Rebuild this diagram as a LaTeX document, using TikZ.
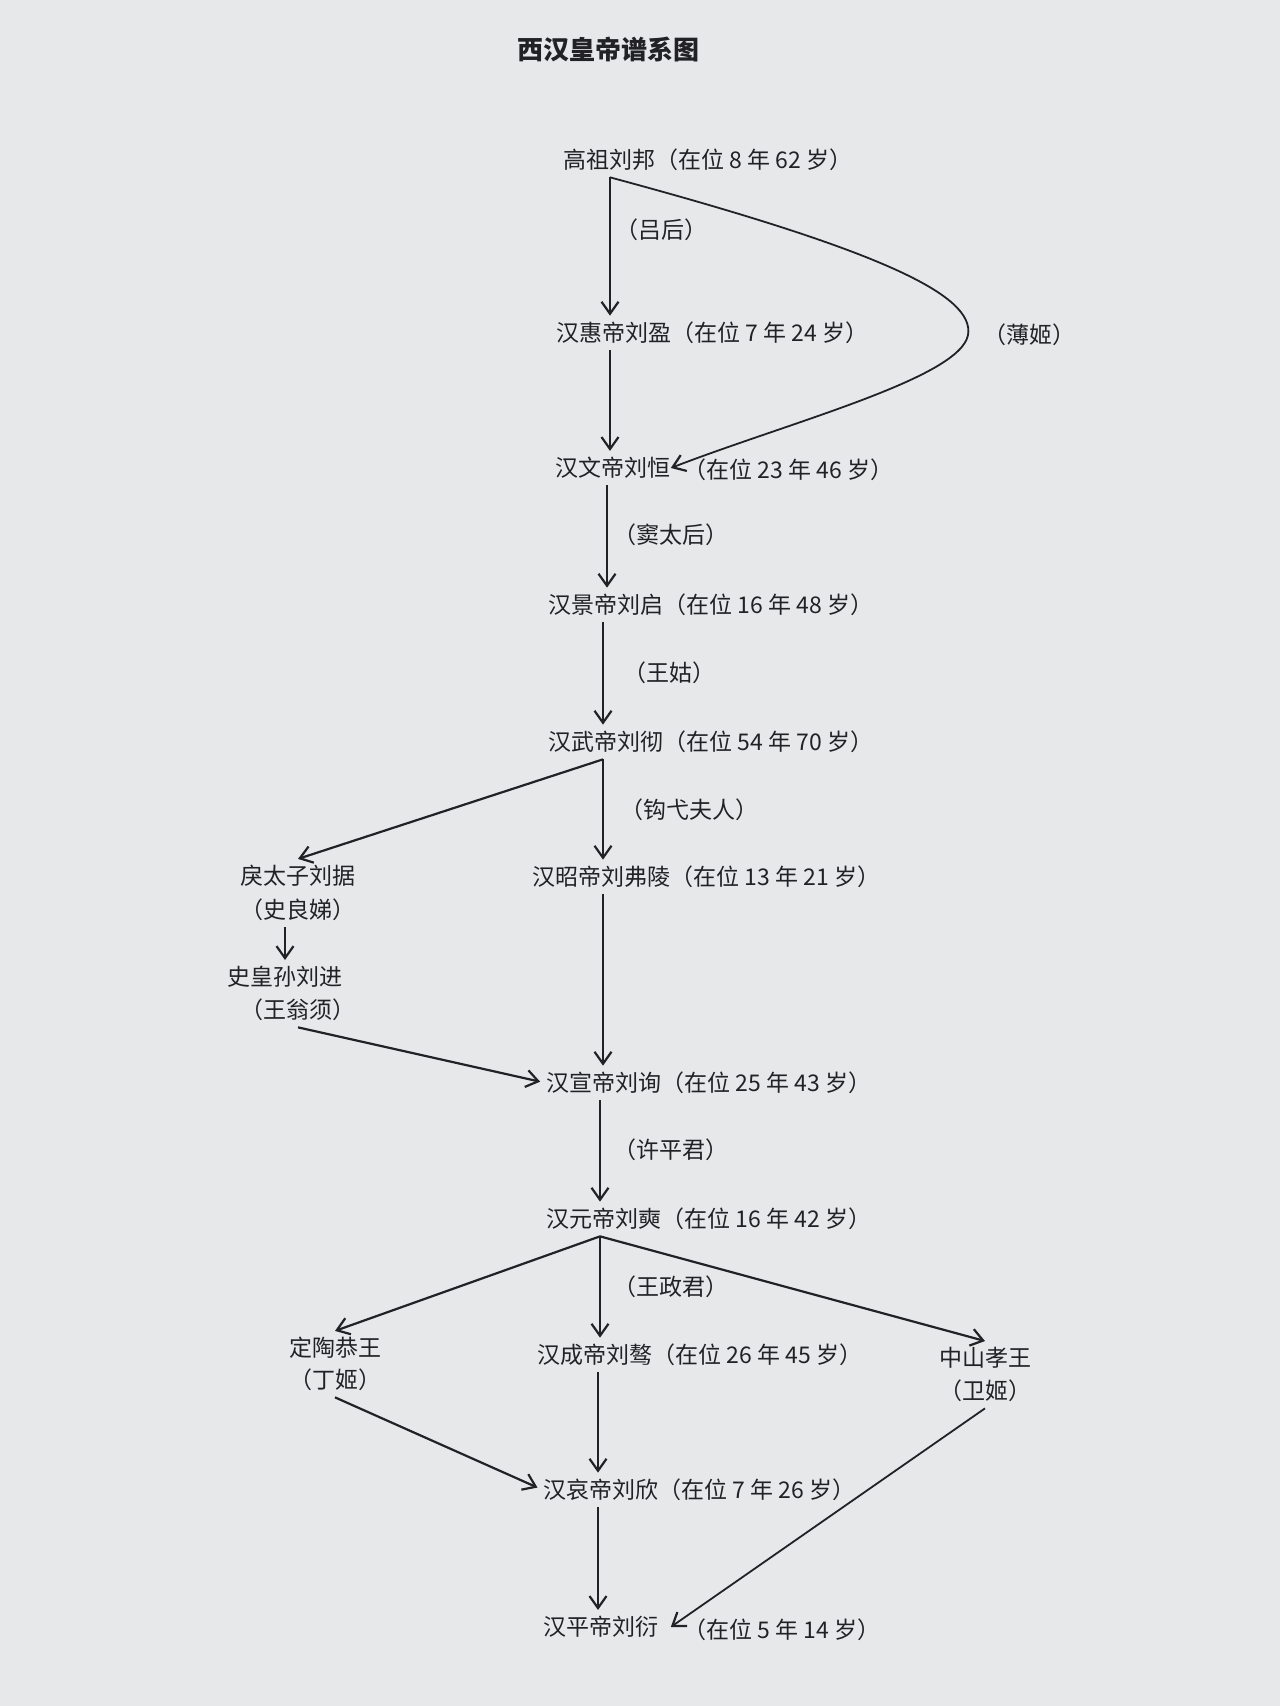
\documentclass[tikz,border=0pt]{standalone}
\usepackage{fontspec}
\setmainfont{Noto Sans CJK SC}
\usetikzlibrary{arrows.meta}
\definecolor{paper}{RGB}{231,232,234}
\definecolor{ink}{RGB}{34,34,38}
\begin{document}
\begin{tikzpicture}[x=0.5pt,y=-0.5pt,
  person/.style={inner xsep=0pt,inner ysep=3pt,text=ink,font=\fontsize{11.5}{13}\selectfont},
  lead/.style={person,anchor=west},
  wife/.style={person,anchor=west},
  arr/.style={draw=ink,line width=1.1pt,-{Straight Barb[length=6pt,width=8.5pt,line width=1.1pt]}},
  thin/.style={arr,line width=0.9pt}]
\useasboundingbox (0,0) rectangle (1280,1706);
\fill[paper] (0,0) rectangle (1280,1706);
% title
\node[text=ink,font=\fontsize{13}{15}\bfseries\selectfont] (title) at (608,50) {西汉皇帝谱系图};
% column coordinates
\coordinate (c1) at (610,0);
\coordinate (c2) at (607,0);
\coordinate (c3) at (603,0);
\coordinate (c4) at (600,0);
\coordinate (c5) at (598,0);
% emperors
\node[lead] (gaozu) at (563,160) {高祖刘邦（在位 8 年 62 岁）};
\node[lead] (huidi) at (556,333) {汉惠帝刘盈（在位 7 年 24 岁）};
\node[lead] (wendi) at (555,468) {汉文帝刘恒};
\node[lead] (wendiinfo) at (683,470) {（在位 23 年 46 岁）};
\node[lead] (jingdi) at (548,605) {汉景帝刘启（在位 16 年 48 岁）};
\node[lead] (wudi) at (548,742) {汉武帝刘彻（在位 54 年 70 岁）};
\node[lead] (zhaodi) at (532,877) {汉昭帝刘弗陵（在位 13 年 21 岁）};
\node[lead] (xuandi) at (546,1083) {汉宣帝刘询（在位 25 年 43 岁）};
\node[lead] (yuandi) at (546,1219) {汉元帝刘奭（在位 16 年 42 岁）};
\node[lead] (chengdi) at (537,1355) {汉成帝刘骜（在位 26 年 45 岁）};
\node[lead] (aidi) at (543,1490) {汉哀帝刘欣（在位 7 年 26 岁）};
\node[lead] (pingdi) at (543,1627) {汉平帝刘衍};
\node[lead] (pingdiinfo) at (683,1630) {（在位 5 年 14 岁）};
% side branches
\node[person] (lizi) at (298,876) {戾太子刘据};
\node[person] (lizimu) at (298,910) {（史良娣）};
\node[person] (huangsun) at (285,977) {史皇孙刘进};
\node[person] (huangsunmu) at (298,1010) {（王翁须）};
\node[person] (dingtao) at (335,1348) {定陶恭王};
\node[person] (dingtaomu) at (335,1380) {（丁姬）};
\node[person] (zhongshan) at (985,1358) {中山孝王};
\node[person] (zhongshanmu) at (985,1391) {（卫姬）};
% mothers on the main line
\node[wife] (m1) at (615,230) {（吕后）};
\node[wife] (m2) at (983,335) {（薄姬）};
\node[wife] (m3) at (613,535) {（窦太后）};
\node[wife] (m4) at (623,673) {（王姑）};
\node[wife] (m5) at (620,810) {（钩弋夫人）};
\node[wife] (m6) at (613,1150) {（许平君）};
\node[wife] (m7) at (613,1287) {（王政君）};
% connectors
\draw[arr] (gaozu.south -| c1) -- (huidi.north -| c1);
\draw[thin] (gaozu.south -| c1) .. controls (880,250) and (975,295) .. (968,335)
   .. controls (960,378) and (790,422) .. (wendi.east);
\draw[arr] (huidi.south -| c1) -- (wendi.north -| c1);
\draw[arr] (wendi.south -| c2) -- (jingdi.north -| c2);
\draw[arr] (jingdi.south -| c3) -- (wudi.north -| c3);
\draw[arr] (wudi.south -| c3) -- (zhaodi.north -| c3);
\draw[arr] (wudi.south -| c3) -- (lizi.north);
\draw[arr] (lizimu.south -| huangsun) -- (huangsun.north);
\draw[arr] (zhaodi.south -| c3) -- (xuandi.north -| c3);
\draw[arr,shorten >=3pt] (huangsunmu.south) -- (xuandi.west);
\draw[arr] (xuandi.south -| c4) -- (yuandi.north -| c4);
\draw[arr] (yuandi.south -| c4) -- (dingtao.north);
\draw[arr] (yuandi.south -| c4) -- (chengdi.north -| c4);
\draw[arr] (yuandi.south -| c4) -- (zhongshan.north);
\draw[arr,shorten >=3pt] (dingtaomu.south) -- (aidi.west);
\draw[arr] (chengdi.south -| c5) -- (aidi.north -| c5);
\draw[arr] (aidi.south -| c5) -- (pingdi.north -| c5);
\draw[thin] (zhongshanmu.south) -- ([xshift=6pt]pingdi.east);
\end{tikzpicture}
\end{document}
